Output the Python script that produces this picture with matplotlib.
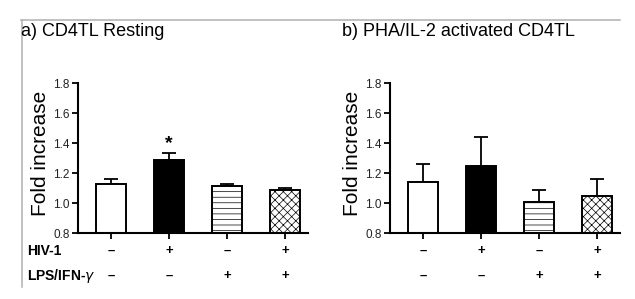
import matplotlib
matplotlib.use("Agg")
import matplotlib.pyplot as plt
import matplotlib.transforms as mtransforms
from matplotlib.lines import Line2D

plt.rcParams['font.family'] = ['Liberation Sans', 'DejaVu Sans']
plt.rcParams['hatch.linewidth'] = 0.5

# data
groups = ["ctrl", "HIV-1", "LPS/IFN", "HIV-1 + LPS/IFN"]
resting_mean = [1.13, 1.29, 1.11, 1.09]
resting_err = [0.027, 0.044, 0.016, 0.007]
activated_mean = [1.14, 1.25, 1.01, 1.05]
activated_err = [0.12, 0.19, 0.08, 0.11]
hiv_signs = ["–", "+", "–", "+"]
lps_signs = ["–", "–", "+", "+"]
titles = ["a) CD4TL Resting", "b) PHA/IL-2 activated CD4TL"]
yticks = [0.8, 1.0, 1.2, 1.4, 1.6, 1.8]

colors = ["white", "black", "white", "white"]
hatches = [None, None, "---", "xxxx"]

W, H = 635, 299
fig = plt.figure(figsize=(W / 100, H / 100), dpi=100)

def fx(px):
    return px / W

def fy(py):
    return 1 - py / H

panels = [
    (78, resting_mean, resting_err, titles[0], 21, 41),
    (390, activated_mean, activated_err, titles[1], 342, 352),
]

for i, (left, means, errs, title, tx, ylx) in enumerate(panels):
    ax = fig.add_axes([fx(left), fy(233), fx(230), 150 / H])
    x = list(range(len(groups)))
    ax.bar(x, means, width=0.52, color=colors, edgecolor="black",
           linewidth=1.4, hatch=hatches, zorder=2)
    ax.errorbar(x, means, yerr=[[0] * len(errs), errs], fmt="none",
                ecolor="black", elinewidth=1.3, capsize=5, capthick=1.3, zorder=1)
    ax.set_ylim(0.8, 1.8)
    ax.set_xlim(-0.57, 3.4)
    ax.set_yticks(yticks)
    ax.set_yticklabels(["%.1f" % t for t in yticks], fontsize=8.5, color="#222222")
    ax.set_xticks(x)
    ax.set_xticklabels([])
    ax.tick_params(direction="out", length=4, width=1.3, pad=2)
    for s in ["top", "right"]:
        ax.spines[s].set_visible(False)
    for s in ["left", "bottom"]:
        ax.spines[s].set_linewidth(1.5)

    fig.text(fx(ylx), fy(153.5), "Fold increase", rotation=90, fontsize=15,
             ha="center", va="center")
    fig.text(fx(tx), fy(32), title, fontsize=13, ha="left", va="center")

    trans = mtransforms.blended_transform_factory(ax.transData, fig.transFigure)
    for xi, sh, sl in zip(x, hiv_signs, lps_signs):
        ax.text(xi, fy(251), sh, transform=trans, ha="center", va="center",
                fontsize=9.5, fontweight="bold", clip_on=False)
        ax.text(xi, fy(276), sl, transform=trans, ha="center", va="center",
                fontsize=9.5, fontweight="bold", clip_on=False)

    if i == 0:
        ax.text(1, resting_mean[1] + resting_err[1] + 0.06, "*", ha="center",
                va="center", fontsize=14, fontweight="bold")

fig.text(fx(27), fy(251), "HIV-1", fontsize=10, fontweight="bold",
         ha="left", va="center")
fig.text(fx(27), fy(276), r"LPS/IFN-$\gamma$", fontsize=10, fontweight="bold",
         ha="left", va="center")

# gray frame lines
fig.add_artist(Line2D([fx(21), fx(620)], [fy(19.5), fy(19.5)],
                      color="#b0b0b0", linewidth=1.1))
fig.add_artist(Line2D([fx(21.5), fx(21.5)], [fy(19.5), fy(287)],
                      color="#b0b0b0", linewidth=1.1))

fig.savefig("out.png", dpi=100)
